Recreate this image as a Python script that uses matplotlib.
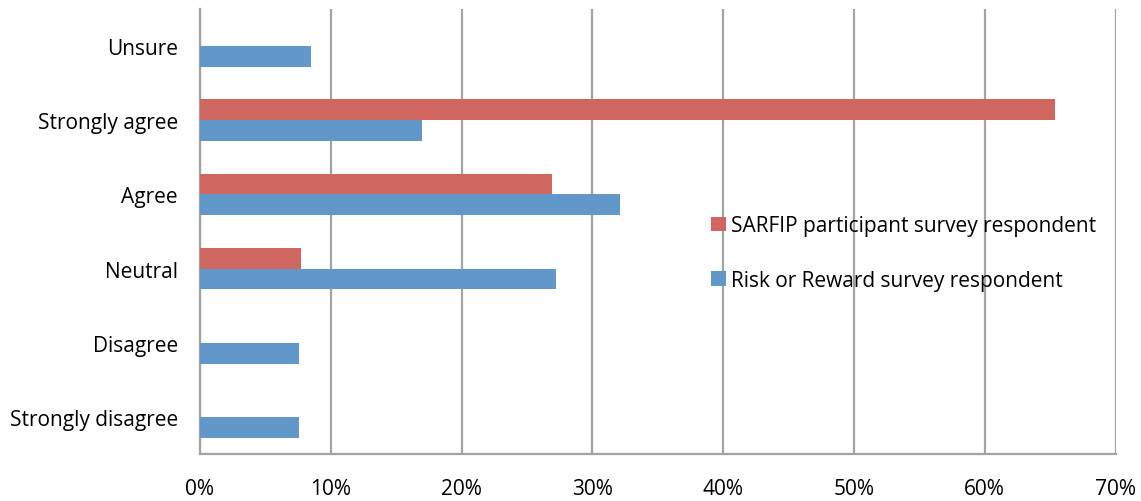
import matplotlib
matplotlib.use("Agg")
import matplotlib.pyplot as plt
import numpy as np

categories = ["Strongly disagree", "Disagree", "Neutral", "Agree", "Strongly agree", "Unsure"]
sarfip = [0.0, 0.0, 7.7, 26.9, 65.4, 0.0]
risk_reward = [7.6, 7.6, 27.2, 32.1, 17.0, 8.5]
xticks = [0, 10, 20, 30, 40, 50, 60, 70]
xtick_labels = [f"{v}%" for v in xticks]

red = "#CF6660"
blue = "#6297C9"
grid_gray = "#A3A3A3"

plt.rcParams["font.family"] = ["Open Sans", "DejaVu Sans"]

fig = plt.figure(figsize=(11.41, 5.02), dpi=100)
ax = fig.add_axes([200 / 1141, 1 - 455 / 502, 915.5 / 1141, 445 / 502])

y = np.arange(len(categories))
h = 0.28
ax.barh(y + h / 2, sarfip, height=h, color=red, label="SARFIP participant survey respondent", zorder=3)
ax.barh(y - h / 2, risk_reward, height=h, color=blue, label="Risk or Reward survey respondent", zorder=3)

ax.set_xlim(0, 70)
ax.set_ylim(-0.5, len(categories) - 0.5)
ax.set_xticks(xticks)
ax.set_xticklabels(xtick_labels)
ax.set_yticks(y)
ax.set_yticklabels(categories)
ax.tick_params(axis="both", length=0, labelsize=15, colors="black")
ax.tick_params(axis="x", pad=17)
ax.tick_params(axis="y", pad=16)

ax.grid(axis="x", color=grid_gray, linewidth=1.6, zorder=0)
ax.set_axisbelow(True)
for side in ["top", "right"]:
    ax.spines[side].set_visible(False)
for side in ["left", "bottom"]:
    ax.spines[side].set_color(grid_gray)
    ax.spines[side].set_linewidth(1.6)

leg = ax.legend(loc="upper left", bbox_to_anchor=((703 - 200) / 915.5, (455 - 208) / 445),
                frameon=False, fontsize=15, handlelength=0.7, handleheight=0.7,
                handletextpad=0.25, labelspacing=1.6, borderaxespad=0)

fig.savefig("out.png", dpi=100)
